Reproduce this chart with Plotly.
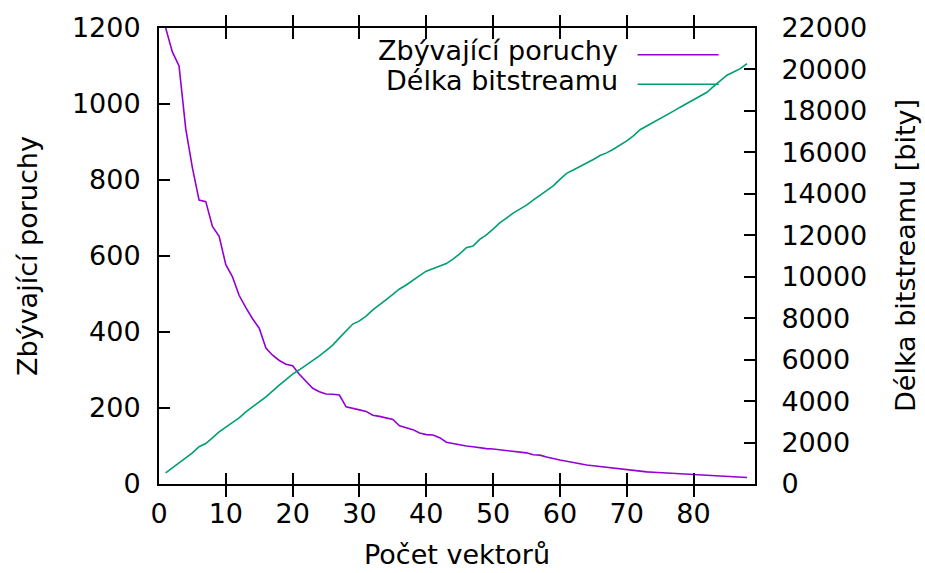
import plotly.graph_objects as go

vectors = list(range(1, 89))

remaining_faults = [
    1200, 1137, 1100, 935, 832, 747, 743, 678, 652, 577,
    545, 496, 464, 435, 410, 358, 339, 325, 315, 311,
    289, 271, 252, 243, 237, 236, 234, 203, 200, 195,
    191, 181, 178, 175, 170, 153, 147, 143, 134, 130,
    129, 122, 110, 106, 103, 100, 98, 95, 93, 92,
    90, 89, 87, 85, 82, 77, 76, 71, 66, 63,
    60, 56, 52, 50, 48, 46, 43, 41, 39, 37,
    35, 33, 32, 31, 30, 29, 28, 27, 26, 25,
    24, 23, 22, 21, 20, 19, 18, 17,
]

bitstream_length = [
    541, 770, 1000, 1230, 1500, 1800, 1950, 2230, 2510, 2740,
    2960, 3190, 3480, 3740, 3960, 4200, 4500, 4770, 5030, 5300,
    5510, 5720, 5940, 6180, 6430, 6700, 7050, 7400, 7717, 7870,
    8100, 8400, 8672, 8900, 9150, 9408, 9600, 9805, 10050, 10269,
    10400, 10520, 10633, 10850, 11100, 11398, 11479, 11800, 12020, 12300,
    12594, 12830, 13072, 13260, 13455, 13700, 13933, 14150, 14382, 14700,
    14986, 15150, 15306, 15480, 15655, 15850, 15975, 16150, 16350, 16550,
    16800, 17090, 17270, 17443, 17620, 17800, 17990, 18180, 18367, 18550,
    18720, 18900, 19180, 19450, 19720, 19880, 20040, 20280,
]

series_names = ["Zbývající poruchy", "Délka bitstreamu"]
x_title = "Počet vektorů"
y_title = "Zbývající poruchy"
y2_title = "Délka bitstreamu [bity]"
x_ticks = [0, 10, 20, 30, 40, 50, 60, 70, 80]

PURPLE = "#9400D3"
GREEN = "#009E73"
FONT = "DejaVu Sans"
FS = 27

fig = go.Figure()
fig.add_trace(go.Scatter(x=vectors, y=remaining_faults, mode="lines",
                         line=dict(color=PURPLE, width=1.6), name=series_names[0]))
fig.add_trace(go.Scatter(x=vectors, y=bitstream_length, mode="lines",
                         line=dict(color=GREEN, width=1.6), name=series_names[1],
                         yaxis="y2"))

axis_common = dict(
    ticks="inside", ticklen=11, tickwidth=1.5, tickcolor="black",
    showline=True, linecolor="black", linewidth=2,
    showgrid=False, zeroline=False,
    tickfont=dict(family=FONT, size=FS, color="black"),
)

fig.update_layout(
    width=925, height=573, autosize=False,
    margin=dict(l=159, r=170, t=24, b=89),
    paper_bgcolor="white", plot_bgcolor="white",
    showlegend=False,
    font=dict(family=FONT, size=FS, color="black"),
    xaxis=dict(range=[0, 89.2], tickvals=x_ticks, mirror="allticks",
               ticklabelstandoff=5, **axis_common),
    yaxis=dict(range=[0, 1200], dtick=200, tick0=0, mirror=False,
               ticklabelstandoff=11, tickformat="d", **axis_common),
    yaxis2=dict(range=[0, 22000], dtick=2000, tick0=0, overlaying="y",
                side="right", ticklabelstandoff=19, tickformat="d",
                **axis_common),
)

# axis titles
fig.add_annotation(text=y_title, xref="paper", yref="paper", x=-0.2215, y=0.5,
                   xanchor="center", yanchor="middle", textangle=-90,
                   showarrow=False, font=dict(family=FONT, size=FS))
fig.add_annotation(text=y2_title, xref="paper", yref="paper", x=1.2517, y=0.5,
                   xanchor="center", yanchor="middle", textangle=-90,
                   showarrow=False, font=dict(family=FONT, size=FS))
fig.add_annotation(text=x_title, xref="paper", yref="paper", x=0.5, y=-0.155,
                   xanchor="center", yanchor="middle",
                   showarrow=False, font=dict(family=FONT, size=FS))

# gnuplot-style legend: text then sample line
legend_rows = [(series_names[0], PURPLE, 0.9413), (series_names[1], GREEN, 0.8767)]
for name, color, yy in legend_rows:
    fig.add_annotation(text=name, xref="paper", yref="paper", x=0.7735, y=yy + 0.009,
                       xanchor="right", yanchor="middle", showarrow=False,
                       font=dict(family=FONT, size=FS))
    fig.add_shape(type="line", xref="paper", yref="paper", x0=0.803, x1=0.939,
                  y0=yy, y1=yy, line=dict(color=color, width=1.5))

fig.write_html("out.html", config={"displayModeBar": False},
               post_script="document.body.style.margin='0';document.body.style.padding='0';")
